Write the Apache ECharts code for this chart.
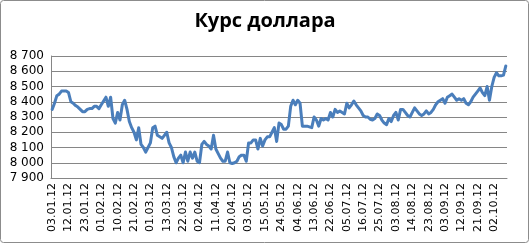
<!DOCTYPE html>
<html>
<head>
<meta charset="utf-8">
<script src="https://cdn.jsdelivr.net/npm/echarts@6/dist/echarts.min.js"></script>
<style>
  html, body { margin: 0; padding: 0; background: #fff; }
  #chart { width: 530px; height: 244px; }
</style>
</head>
<body>
<div id="chart"></div>
<script>
// labels shown every 7th trading day
const tickLabels = [
    '03.01.12', '12.01.12', '23.01.12', '01.02.12', '10.02.12', '21.02.12', '01.03.12',
    '13.03.12', '22.03.12', '02.04.12', '11.04.12', '20.04.12', '03.05.12', '15.05.12',
    '24.05.12', '04.06.12', '13.06.12', '22.06.12', '05.07.12', '16.07.12', '25.07.12',
    '03.08.12', '14.08.12', '23.08.12', '03.09.12', '12.09.12', '21.09.12', '02.10.12'
];
const rates = [
    8350, 8390, 8440, 8450, 8470, 8470, 8470, 8460, 8400, 8390,
    8375, 8365, 8350, 8335, 8335, 8350, 8355, 8355, 8370, 8370,
    8355, 8380, 8405, 8430, 8370, 8430, 8290, 8260, 8330, 8280,
    8380, 8410, 8350, 8270, 8230, 8200, 8150, 8230, 8120, 8100,
    8070, 8100, 8130, 8230, 8240, 8180, 8170, 8160, 8180, 8200,
    8130, 8100, 8040, 8000, 8030, 8050, 8000, 8070, 8010, 8070,
    8030, 8070, 8010, 8000, 8120, 8140, 8120, 8110, 8090, 8180,
    8090, 8060, 8030, 8010, 8010, 8070, 8000, 7995, 8000, 8010,
    8040, 8050, 8050, 8010, 8130, 8130, 8150, 8150, 8090, 8160,
    8110, 8150, 8170, 8170, 8200, 8230, 8140, 8260, 8250, 8220,
    8220, 8240, 8370, 8410, 8380, 8410, 8390, 8240, 8240, 8240,
    8235, 8230, 8300, 8280, 8240, 8290, 8280, 8290, 8280, 8330,
    8300, 8350, 8330, 8340, 8330, 8320, 8390, 8360, 8380, 8405,
    8380, 8360, 8340, 8310, 8300, 8300, 8285, 8280, 8290, 8320,
    8310, 8280, 8260, 8250, 8290, 8270, 8310, 8330, 8280, 8350,
    8350, 8330, 8310, 8300, 8330, 8360, 8340, 8320, 8310, 8320,
    8340, 8320, 8330, 8350, 8380, 8400, 8410, 8420, 8390, 8430,
    8440, 8450, 8430, 8410, 8420, 8410, 8420, 8390, 8380, 8400,
    8430, 8450, 8470, 8490, 8460, 8440, 8500, 8410, 8500, 8560,
    8590, 8570, 8570, 8575, 8635
];
const categories = rates.map((v, i) => (i % 7 === 0 ? tickLabels[i / 7] : String(i)));

const chart = echarts.init(document.getElementById('chart'));
let option = {
    animation: false,
    title: {
        text: 'Курс доллара',
        left: 'center',
        top: 6,
        textStyle: {
            fontFamily: 'Open Sans',
            fontWeight: 'bold',
            fontSize: 20,
            color: '#000'
        }
    },
    graphic: [
        {
            type: 'rect',
            shape: { x: 0.5, y: 0.5, width: 528, height: 242, r: 3 },
            style: { fill: 'none', stroke: '#8c8c8c', lineWidth: 1 },
            silent: true
        }
    ],
    grid: {
        left: 51,
        right: 23,
        top: 56,
        bottom: 66
    },
    xAxis: {
        type: 'category',
        data: categories,
        boundaryGap: true,
        axisLine: { lineStyle: { color: '#868686', width: 1 } },
        axisTick: {
            interval: 0,
            length: 3,
            lineStyle: { color: '#868686' }
        },
        axisLabel: {
            interval: (index) => index % 7 === 0,
            rotate: 90,
            margin: 5,
            fontFamily: 'DejaVu Sans',
            fontSize: 11,
            color: '#000'
        }
    },
    yAxis: {
        type: 'value',
        min: 7900,
        max: 8700,
        interval: 100,
        axisLine: { show: true, lineStyle: { color: '#868686' } },
        axisTick: { show: false },
        splitLine: { lineStyle: { color: '#868686', width: 1 } },
        axisLabel: {
            margin: 7,
            fontFamily: 'DejaVu Sans',
            fontSize: 12,
            color: '#000',
            formatter: (v) => String(v).replace(/\B(?=(\d{3})+(?!\d))/g, ' ')
        }
    },
    series: [
        {
            type: 'line',
            data: rates,
            showSymbol: false,
            lineStyle: { color: '#4a7ebb', width: 3, cap: 'round', join: 'round' }
        }
    ]
};
chart.setOption(option);
window.addEventListener('resize', () => {
    chart.resize();
});
</script>
</body>
</html>
